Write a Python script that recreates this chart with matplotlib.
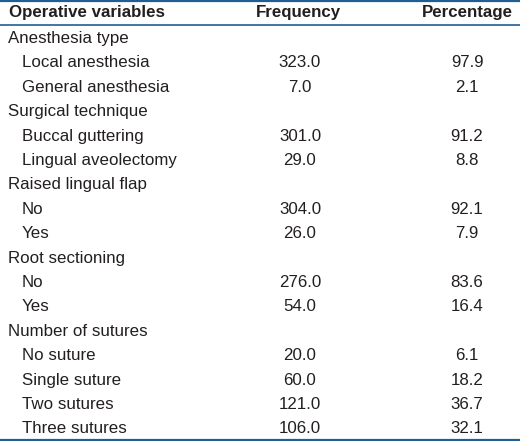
import matplotlib.pyplot as plt

# ---- DATA ----
HEADERS = ["Operative variables", "Frequency", "Percentage"]
LABELS = [
    "Anesthesia type", "Local anesthesia", "General anesthesia",
    "Surgical technique", "Buccal guttering", "Lingual aveolectomy",
    "Raised lingual flap", "No", "Yes",
    "Root sectioning", "No", "Yes",
    "Number of sutures", "No suture", "Single suture", "Two sutures", "Three sutures",
]
IS_GROUP = [True, False, False, True, False, False, True, False, False,
            True, False, False, True, False, False, False, False]
FREQ = ["", "323.0", "7.0", "", "301.0", "29.0", "", "304.0", "26.0",
        "", "276.0", "54.0", "", "20.0", "60.0", "121.0", "106.0"]
PCT = ["", "97.9", "2.1", "", "91.2", "8.8", "", "92.1", "7.9",
       "", "83.6", "16.4", "", "6.1", "18.2", "36.7", "32.1"]

# ---- LAYOUT ----
W, H = 520, 441
LINE_COLOR = "#1f5f94"
TEXT_COLOR = "#231f20"
FS = 12.2
ROW_H = 24.4
HEADER_Y = 13
FIRST_ROW_Y = 38.5

plt.rcParams["font.family"] = ["Liberation Sans", "DejaVu Sans"]
fig = plt.figure(figsize=(W / 100, H / 100), dpi=100)
ax = fig.add_axes([0, 0, 1, 1])
ax.set_xlim(0, W)
ax.set_ylim(H, 0)
ax.axis("off")

# header
ax.text(9, HEADER_Y, HEADERS[0], fontsize=FS, fontweight="bold", color=TEXT_COLOR, va="center", ha="left")
ax.text(298, HEADER_Y, HEADERS[1], fontsize=FS, fontweight="bold", color=TEXT_COLOR, va="center", ha="center")
ax.text(467, HEADER_Y, HEADERS[2], fontsize=FS, fontweight="bold", color=TEXT_COLOR, va="center", ha="center")

# rules
ax.axhline(1, color=LINE_COLOR, lw=1.6)
ax.axhline(24.5, color=LINE_COLOR, lw=1.2)
ax.axhline(439.5, color=LINE_COLOR, lw=1.6)

# rows
for i, (lab, grp, f, p) in enumerate(zip(LABELS, IS_GROUP, FREQ, PCT)):
    y = FIRST_ROW_Y + i * ROW_H
    ax.text(8 if grp else 22, y, lab, fontsize=FS, color=TEXT_COLOR, va="center", ha="left")
    ax.text(300, y, f, fontsize=FS, color=TEXT_COLOR, va="center", ha="center")
    ax.text(467, y, p, fontsize=FS, color=TEXT_COLOR, va="center", ha="center")

fig.savefig("out.png", dpi=100)
